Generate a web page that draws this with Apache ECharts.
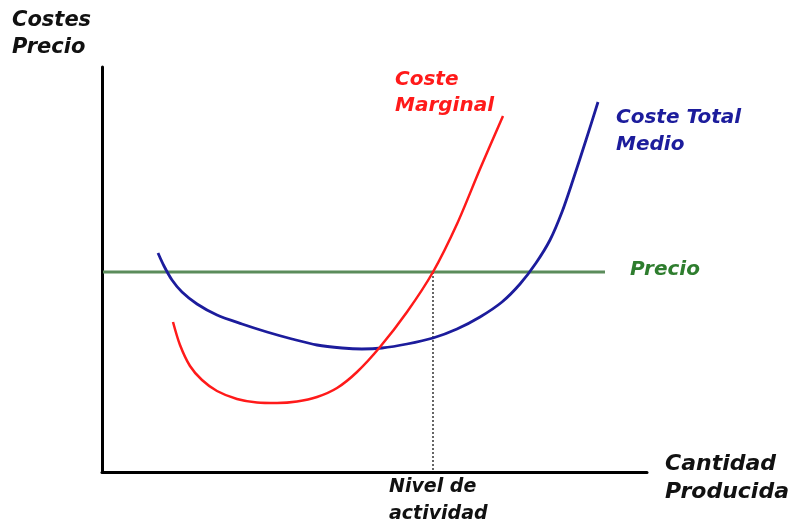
<!DOCTYPE html>
<html><head><meta charset="utf-8">
<script src="https://cdn.jsdelivr.net/npm/echarts@6/dist/echarts.min.js"></script>
<style>html,body{margin:0;padding:0;background:#fff}#c{width:793px;height:528px}</style>
</head><body><div id="c"></div>
<script>
// Abstract units (quantity, cost)
const marginalCost = [[71,150],[78,127],[88,106],[100,92],[115,81],[135,73],[155,69.5],[175,69],[195,70.5],[215,75],[235,84],[255,100],[278,125],[305,160],[331,200],[355,248],[378,303],[401,356]];
const averageTotalCost = [[56,219],[62,206],[70,192],[80,180],[95,168],[115,157],[140,148],[165,140],[190,133],[215,127],[240,124],[260,123],[280,124],[305,128],[331,134],[355,143],[378,155],[400,170],[418,188],[434,209],[448,232],[460,260],[471,292],[484,332],[496,370]];
const priceLevel = 200;
const priceRange = [1, 503];
const activityLevel = 331;

const F = '"DejaVu Sans", Verdana, sans-serif';
const chart = echarts.init(document.getElementById('c'));
chart.setOption({
  animation:false,
  grid:{left:102,right:146,top:67,bottom:56},
  xAxis:{type:'value',min:0,max:545,axisLine:{show:true,lineStyle:{color:'#000',width:3}},axisTick:{show:false},axisLabel:{show:false},splitLine:{show:false}},
  yAxis:{type:'value',min:0,max:405,axisLine:{show:true,lineStyle:{color:'#000',width:3}},axisTick:{show:false},axisLabel:{show:false},splitLine:{show:false}},
  series:[
    {type:'line',data:[[priceRange[0],priceLevel],[priceRange[1],priceLevel]],symbol:'none',lineStyle:{color:'#5b8c5b',width:3}},
    {type:'line',data:[[activityLevel,priceLevel],[activityLevel,0]],symbol:'none',lineStyle:{color:'#333',width:1.5,type:[2,2]}},
    {type:'line',data:averageTotalCost,smooth:0.3,symbol:'none',lineStyle:{color:'#1c1c9c',width:2.8}},
    {type:'line',data:marginalCost,smooth:0.3,symbol:'none',lineStyle:{color:'#ff1a1a',width:2.5}}
  ],
  graphic:[
    {type:'text',left:12,top:7,style:{text:'Costes\nPrecio',font:'italic bold 21px '+F,fill:'#111',lineHeight:27}},
    {type:'text',left:395,top:67,style:{text:'Coste\nMarginal',font:'italic bold 20px '+F,fill:'#ff1a1a',lineHeight:26}},
    {type:'text',left:616,top:104,style:{text:'Coste Total\nMedio',font:'italic bold 20px '+F,fill:'#1c1c9c',lineHeight:27}},
    {type:'text',left:630,top:260,style:{text:'Precio',font:'italic bold 20px '+F,fill:'#2e7d2e',lineHeight:20}},
    {type:'text',left:665,top:450,style:{text:'Cantidad\nProducida',font:'italic bold 22px '+F,fill:'#111',lineHeight:28}},
    {type:'text',left:389,top:474,style:{text:'Nivel de\nactividad',font:'italic bold 19px '+F,fill:'#111',lineHeight:27}}
  ]
});
</script></body></html>
